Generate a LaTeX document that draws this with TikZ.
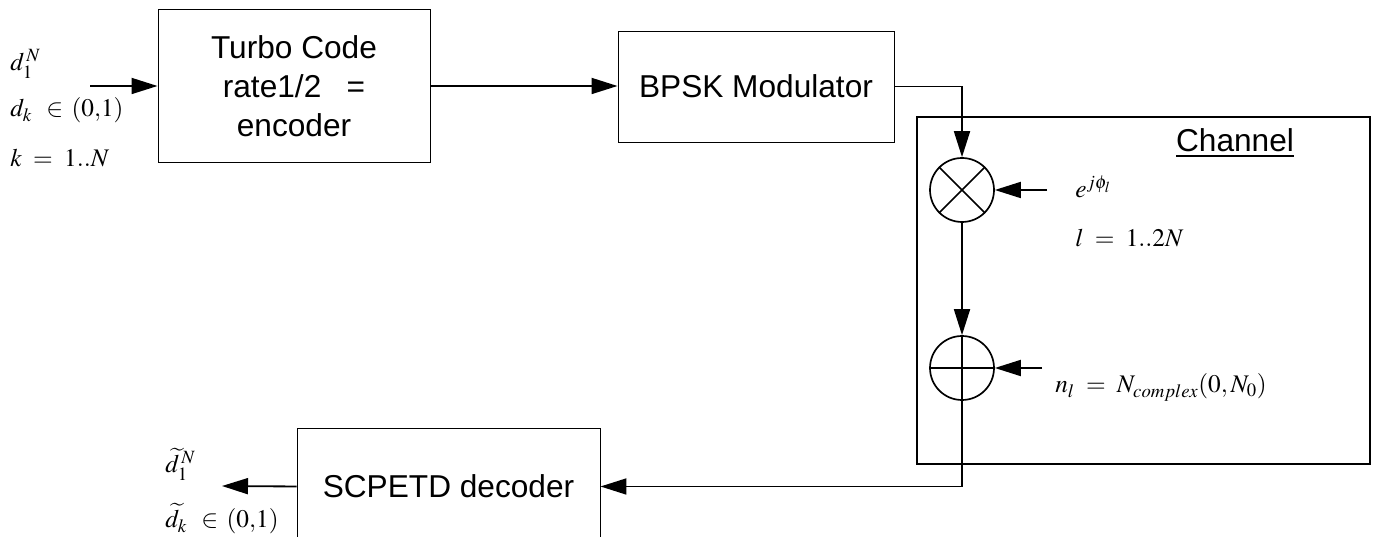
\documentclass[tikz,border=0pt]{standalone}
\usepackage{mathptmx}
\usepackage{fontspec}
\setmainfont{Liberation Sans}
\usetikzlibrary{arrows.meta,positioning,calc}
\tikzset{
  bnode/.style={rectangle,draw,line width=0.7pt,align=center,inner sep=2pt,font=\fontsize{22.5}{27.6}\selectfont},
  onode/.style={circle,draw,line width=1.2pt,minimum size=16mm,inner sep=0pt},
  de/.style={-{Triangle[length=6.5mm,width=4mm]},line width=1.3pt},
  ln/.style={line width=1.2pt},
  mlab/.style={anchor=base west,inner sep=0pt,font=\fontsize{18}{22}\selectfont}
}
\begin{document}
\begin{tikzpicture}
\useasboundingbox (0,0) rectangle (34.375,13.425);
\clip (0,0) rectangle (34.375,13.425);
% blocks
\node[bnode,minimum width=6.8cm,minimum height=3.8cm] (tc) at (7.35,11.275) {Turbo Code\\rate1/2\hspace{0.8em}=\\encoder};
\node[bnode,minimum width=6.9cm,minimum height=2.775cm] (bpsk) at (18.9,11.2625) {BPSK Modulator};
\node[bnode,minimum width=7.575cm,minimum height=2.9cm,anchor=north] (dec) at (11.2125,2.725) {SCPETD decoder};
\node[bnode,line width=0.8pt,minimum width=11.325cm,minimum height=8.675cm] (chan) at (28.5875,6.1625) {};
\node[font=\fontsize{22.5}{27}\selectfont] (chl) at (30.875,9.85) {\underline{Channel}};
\node[onode] (mul) at (24.05,8.675) {};
\node[onode] (add) at (24.05,4.225) {};
\draw[ln] (mul.north west) -- (mul.south east) (mul.north east) -- (mul.south west);
\draw[ln] (add.west) -- (add.east) (add.north) -- (add.south);
% labels
\node[mlab] (d1) at (0.25,11.65) {$d_1^{\,N}$};
\node[mlab] (dk) at (0.25,10.5) {$d_k\;\,\in\,(0{,}1)$};
\node[mlab] (kr) at (0.25,9.25) {$k\;=\;1..N$};
\node[mlab] (ph) at (26.875,8.475) {$e^{j\phi_l}$};
\node[mlab] (lr) at (26.875,7.25) {$l\;=\;1..2N$};
\node[mlab] (nl) at (26.375,3.6) {$n_l\;=\;N_{complex}(0,N_0)$};
\node[mlab] (dt1) at (4.125,1.6) {$\widetilde{d}_1^{\,N}$};
\node[mlab] (dtk) at (4.125,0.225) {$\widetilde{d}_k\;\,\in\,(0{,}1)$};
\coordinate (din) at (2.25,11.275);
\coordinate (dout) at (5.55,1.275);
\coordinate (ephi) at (26.175,8.675);
\coordinate (nin) at (26.05,4.225);
% connections
\draw[de] (din) -- (tc.west);
\draw[de] (tc.east) -- (tc.east -| bpsk.west);
\draw[de] (bpsk.east) -| (mul.north);
\draw[de] (ephi) -- (mul.east);
\draw[de] (mul.south) -- (add.north);
\draw[de] (nin) -- (add.east);
\draw[de] (add.south) |- (dec.east);
\draw[de] (dec.west) -- (dout);
\end{tikzpicture}
\end{document}
